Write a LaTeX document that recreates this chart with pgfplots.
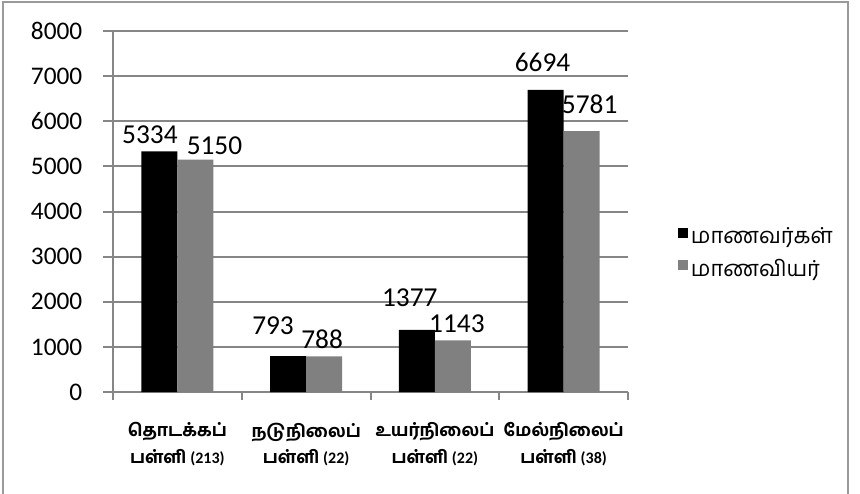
\documentclass[border=0pt]{standalone}
\usepackage{pgfplots}
\usepackage{pgfplotstable}
\pgfplotsset{compat=1.18}
\usepackage{fontspec}
\setmainfont{Carlito}
\newfontfamily\tamil[Script=Tamil, BoldFont={Hind Madurai Bold}]{Hind Madurai}
\definecolor{gridgray}{HTML}{868686}
\definecolor{bargray}{HTML}{808080}
\definecolor{framegray}{HTML}{9A9A9A}
\pgfplotstableread{
x y dx dy
0 5334 -7.1 2.3
1 793 -11.3 12.8
2 1377 -5.3 14.3
3 6694 -2.3 10.5
}\boys
\pgfplotstableread{
x y dx dy
0 5150 14.3 0.8
1 788 -1.5 2.3
2 1143 3 2.3
3 5781 6 9.8
}\girls
\begin{document}
\begin{tikzpicture}
\useasboundingbox (0,0) rectangle (645pt,369.75pt);
\draw[framegray, line width=1.6pt] (2.25pt,-5pt) -- (2.25pt,368.25pt) -- (636pt,368.25pt) -- (636pt,-5pt);
\begin{axis}[
  at={(84.75pt,75.75pt)}, anchor=south west,
  scale only axis, width=386.25pt, height=270.75pt,
  xmin=-0.5, xmax=3.5, ymin=0, ymax=8000,
  ytick={0,1000,...,8000},
  xtick={0,1,2,3},
  xticklabels={
    {{\tamil\bfseries தொடக்கப்}\\{\tamil\bfseries பள்ளி} {\bfseries\fontsize{12}{14}\selectfont(213)}},
    {{\tamil\bfseries நடுநிலைப்}\\{\tamil\bfseries பள்ளி} {\bfseries\fontsize{12}{14}\selectfont(22)}},
    {{\tamil\bfseries உயர்நிலைப்}\\{\tamil\bfseries பள்ளி} {\bfseries\fontsize{12}{14}\selectfont(22)}},
    {{\tamil\bfseries மேல்நிலைப்}\\{\tamil\bfseries பள்ளி} {\bfseries\fontsize{12}{14}\selectfont(38)}}},
  minor xtick={-0.5,0.5,1.5,2.5,3.5},
  major x tick style={draw=none},
  minor x tick style={gridgray, line width=1.5pt},
  minor tick length=6pt,
  major tick length=7.5pt,
  tick align=outside,
  ytick style={gridgray, line width=1.5pt},
  ymajorgrids, grid style={gridgray, line width=1.5pt},
  axis x line*=bottom, axis y line*=left,
  axis line style={-, gridgray, line width=1.5pt},
  yticklabel style={font=\fontsize{19}{22}\selectfont, xshift=-12pt},
  xticklabel style={align=center, font=\fontsize{13}{20}\selectfont, yshift=-12pt},
  /pgf/number format/assume math mode=true,
  /pgf/number format/1000 sep={},
  scaled y ticks=false,
  ybar, bar width=0.28,
  nodes near coords,
  nodes near coords style={font=\fontsize{20.5}{24}\selectfont, inner sep=1pt, yshift=2pt, text=black, /pgf/number format/1000 sep={}},
  legend style={at={(1.097,0.385)}, anchor=west, draw=none, fill=none,
    font=\tamil\fontsize{16.5}{20}\selectfont, row sep=6pt, inner sep=0pt},
  legend cell align=left,
  legend image code/.code={\fill[#1] (0pt,-1pt) rectangle (7.5pt,6.5pt);},
  clip=false,
]
\addplot[fill=black, draw=none, bar shift=-0.14,
  visualization depends on={\thisrow{dx} \as \dx},
  visualization depends on={\thisrow{dy} \as \dy},
  nodes near coords style={xshift=\dx pt, yshift=\dy pt}] table[x=x, y=y] {\boys};
\addplot[fill=bargray, draw=none, bar shift=0.14,
  visualization depends on={\thisrow{dx} \as \dx},
  visualization depends on={\thisrow{dy} \as \dy},
  nodes near coords style={xshift=\dx pt, yshift=\dy pt}] table[x=x, y=y] {\girls};
\legend{மாணவர்கள், மாணவியர்}
\end{axis}
\end{tikzpicture}
\end{document}
